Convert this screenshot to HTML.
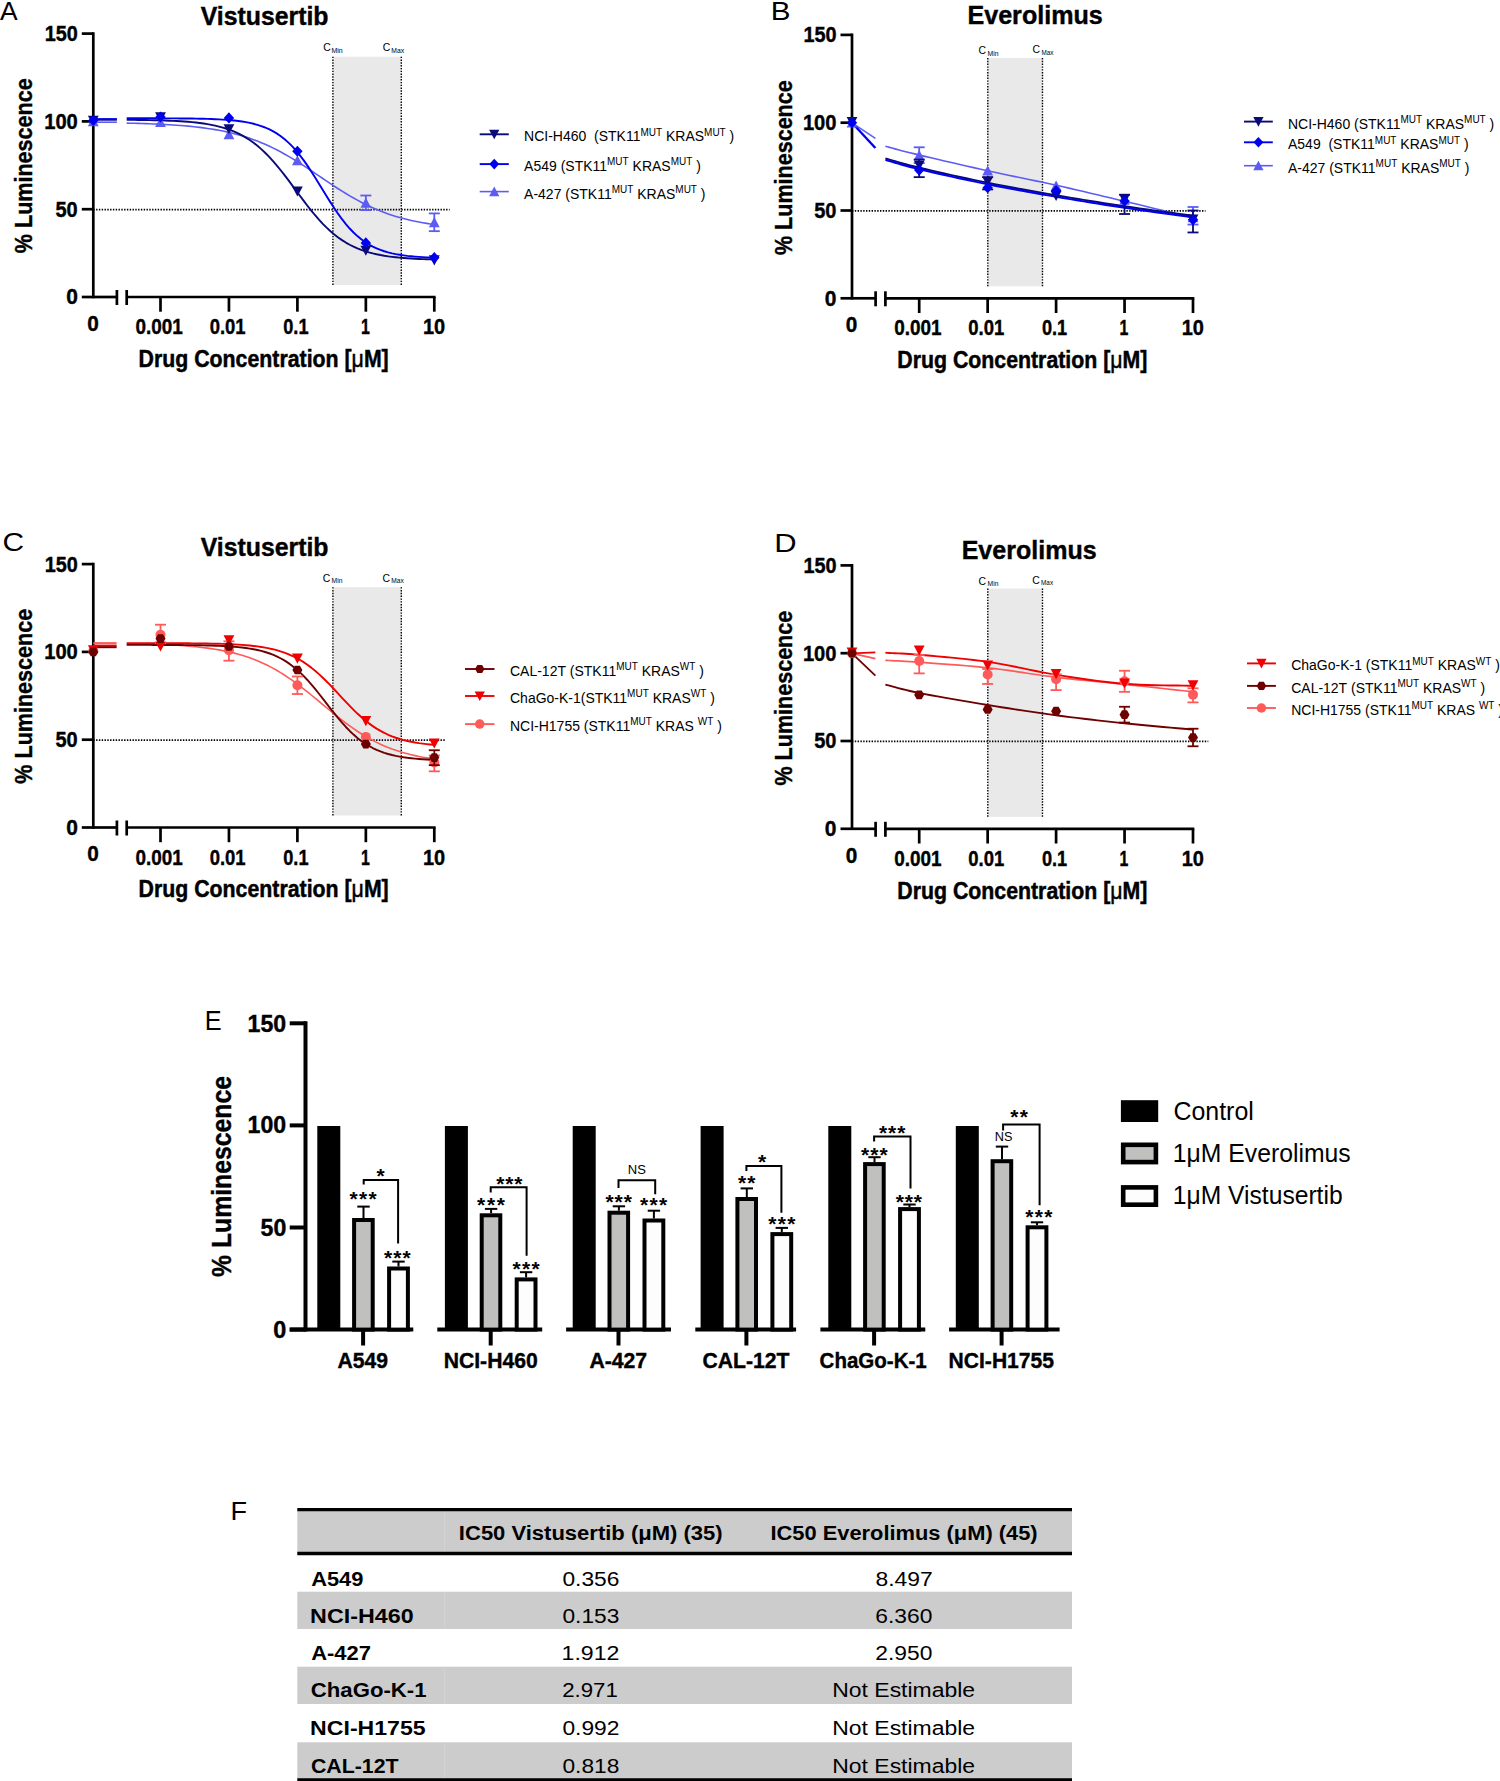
<!DOCTYPE html><html><head><meta charset="utf-8"><style>html,body{margin:0;padding:0;background:#fff;}svg{display:block;}</style></head><body>
<svg width="1500" height="1781" viewBox="0 0 1500 1781" font-family='"Liberation Sans", sans-serif'>
<rect width="1500" height="1781" fill="#fff"/>
<text x="-0.13" y="20.00" font-size="25.5" font-weight="normal" fill="#000" textLength="17.64" lengthAdjust="spacingAndGlyphs" >A</text>
<text x="200.68" y="25.00" font-size="25.5" font-weight="bold" fill="#000" textLength="127.86" lengthAdjust="spacingAndGlyphs"  stroke="#000" stroke-width="0.4">Vistusertib</text>
<rect x="332.9" y="56.7" width="68.4" height="228.3" fill="#e9e9e9"/>
<line x1="332.90" y1="56.70" x2="332.90" y2="285.00" stroke="#000" stroke-width="1.4" stroke-dasharray="1.4,1.4"/>
<line x1="401.30" y1="56.70" x2="401.30" y2="285.00" stroke="#000" stroke-width="1.4" stroke-dasharray="1.4,1.4"/>
<text x="323.20" y="51.00" font-size="10.5" font-weight="normal" fill="#000" textLength="7.55" lengthAdjust="spacingAndGlyphs" >C</text>
<text x="331.50" y="52.90" font-size="7" font-weight="normal" fill="#000" textLength="11.20" lengthAdjust="spacingAndGlyphs" >Min</text>
<text x="382.80" y="51.00" font-size="10.5" font-weight="normal" fill="#000" textLength="7.55" lengthAdjust="spacingAndGlyphs" >C</text>
<text x="391.21" y="52.90" font-size="7" font-weight="normal" fill="#000" textLength="12.88" lengthAdjust="spacingAndGlyphs" >Max</text>
<line x1="93.30" y1="209.60" x2="449.60" y2="209.60" stroke="#000" stroke-width="1.6" stroke-dasharray="1.4,1.4"/>
<line x1="93.30" y1="32.30" x2="93.30" y2="298.30" stroke="#000" stroke-width="2.7" />
<line x1="81.80" y1="33.60" x2="93.30" y2="33.60" stroke="#000" stroke-width="2.7" />
<line x1="81.80" y1="121.40" x2="93.30" y2="121.40" stroke="#000" stroke-width="2.7" />
<line x1="81.80" y1="209.20" x2="93.30" y2="209.20" stroke="#000" stroke-width="2.7" />
<line x1="81.80" y1="297.00" x2="93.30" y2="297.00" stroke="#000" stroke-width="2.7" />
<line x1="93.30" y1="297.00" x2="116.90" y2="297.00" stroke="#000" stroke-width="2.7" />
<line x1="116.90" y1="290.00" x2="116.90" y2="305.00" stroke="#000" stroke-width="2.7" />
<line x1="126.70" y1="290.00" x2="126.70" y2="305.00" stroke="#000" stroke-width="2.7" />
<line x1="126.70" y1="297.00" x2="435.60" y2="297.00" stroke="#000" stroke-width="2.7" />
<line x1="160.50" y1="297.00" x2="160.50" y2="311.70" stroke="#000" stroke-width="2.7" />
<line x1="228.95" y1="297.00" x2="228.95" y2="311.70" stroke="#000" stroke-width="2.7" />
<line x1="297.40" y1="297.00" x2="297.40" y2="311.70" stroke="#000" stroke-width="2.7" />
<line x1="365.85" y1="297.00" x2="365.85" y2="311.70" stroke="#000" stroke-width="2.7" />
<line x1="434.30" y1="297.00" x2="434.30" y2="311.70" stroke="#000" stroke-width="2.7" />
<text x="44.73" y="41.00" font-size="21.5" font-weight="bold" fill="#000" textLength="33.07" lengthAdjust="spacingAndGlyphs"  stroke="#000" stroke-width="0.4">150</text>
<text x="44.21" y="128.80" font-size="21.5" font-weight="bold" fill="#000" textLength="33.60" lengthAdjust="spacingAndGlyphs"  stroke="#000" stroke-width="0.4">100</text>
<text x="55.52" y="216.60" font-size="21.5" font-weight="bold" fill="#000" textLength="22.21" lengthAdjust="spacingAndGlyphs"  stroke="#000" stroke-width="0.4">50</text>
<text x="66.15" y="304.40" font-size="21.5" font-weight="bold" fill="#000" textLength="11.67" lengthAdjust="spacingAndGlyphs"  stroke="#000" stroke-width="0.4">0</text>
<text x="87.15" y="330.70" font-size="21.5" font-weight="bold" fill="#000" textLength="11.55" lengthAdjust="spacingAndGlyphs"  stroke="#000" stroke-width="0.4">0</text>
<text x="135.53" y="334.10" font-size="21.5" font-weight="bold" fill="#000" textLength="47.35" lengthAdjust="spacingAndGlyphs"  stroke="#000" stroke-width="0.4">0.001</text>
<text x="209.65" y="334.10" font-size="21.5" font-weight="bold" fill="#000" textLength="35.96" lengthAdjust="spacingAndGlyphs"  stroke="#000" stroke-width="0.4">0.01</text>
<text x="283.26" y="334.10" font-size="21.5" font-weight="bold" fill="#000" textLength="25.28" lengthAdjust="spacingAndGlyphs"  stroke="#000" stroke-width="0.4">0.1</text>
<text x="360.88" y="334.10" font-size="21.5" font-weight="bold" fill="#000" textLength="8.85" lengthAdjust="spacingAndGlyphs"  stroke="#000" stroke-width="0.4">1</text>
<text x="423.02" y="334.10" font-size="21.5" font-weight="bold" fill="#000" textLength="22.21" lengthAdjust="spacingAndGlyphs"  stroke="#000" stroke-width="0.4">10</text>
<text x="138.59" y="366.80" font-size="24.5" font-weight="bold" fill="#000" textLength="250.14" lengthAdjust="spacingAndGlyphs"  stroke="#000" stroke-width="0.5">Drug Concentration [<tspan font-weight="normal">&#956;</tspan>M]</text>
<text transform="translate(32.40,253.17) rotate(-90)" x="0" y="0" font-size="23.5" font-weight="bold" textLength="174.82" lengthAdjust="spacingAndGlyphs" stroke="#000" stroke-width="0.4">% Luminescence</text>
<polyline points="126.70,123.13 130.55,123.22 134.39,123.31 138.24,123.42 142.08,123.53 145.93,123.66 149.77,123.79 153.62,123.94 157.46,124.11 161.31,124.29 165.15,124.49 169.00,124.71 172.84,124.95 176.69,125.21 180.53,125.50 184.38,125.82 188.22,126.16 192.06,126.54 195.91,126.95 199.75,127.40 203.60,127.89 207.44,128.43 211.29,129.01 215.13,129.65 218.98,130.33 222.83,131.08 226.67,131.89 230.52,132.77 234.36,133.72 238.21,134.75 242.05,135.85 245.90,137.03 249.74,138.31 253.59,139.67 257.43,141.12 261.27,142.66 265.12,144.30 268.97,146.04 272.81,147.88 276.66,149.81 280.50,151.83 284.35,153.94 288.19,156.14 292.04,158.42 295.88,160.77 299.73,163.19 303.57,165.67 307.42,168.19 311.26,170.75 315.11,173.33 318.95,175.93 322.80,178.53 326.64,181.12 330.49,183.69 334.33,186.22 338.18,188.71 342.02,191.15 345.87,193.52 349.71,195.82 353.56,198.04 357.40,200.17 361.25,202.22 365.09,204.17 368.94,206.03 372.78,207.80 376.62,209.46 380.47,211.04 384.31,212.51 388.16,213.90 392.00,215.19 395.85,216.40 399.69,217.52 403.54,218.57 407.39,219.53 411.23,220.43 415.07,221.26 418.92,222.02 422.76,222.73 426.61,223.38 430.45,223.97 434.30,224.52" fill="none" stroke="#5c5cf5" stroke-width="1.6" stroke-linejoin="round" />
<polyline points="126.70,119.85 130.55,119.88 134.39,119.92 138.24,119.96 142.08,120.01 145.93,120.07 149.77,120.14 153.62,120.22 157.46,120.31 161.31,120.42 165.15,120.54 169.00,120.69 172.84,120.85 176.69,121.04 180.53,121.27 184.38,121.52 188.22,121.82 192.06,122.16 195.91,122.56 199.75,123.01 203.60,123.54 207.44,124.14 211.29,124.84 215.13,125.63 218.98,126.55 222.83,127.59 226.67,128.78 230.52,130.14 234.36,131.68 238.21,133.42 242.05,135.38 245.90,137.59 249.74,140.05 253.59,142.78 257.43,145.80 261.27,149.11 265.12,152.73 268.97,156.63 272.81,160.83 276.66,165.29 280.50,169.98 284.35,174.88 288.19,179.94 292.04,185.10 295.88,190.32 299.73,195.53 303.57,200.68 307.42,205.71 311.26,210.58 315.11,215.24 318.95,219.66 322.80,223.80 326.64,227.66 330.49,231.23 334.33,234.49 338.18,237.46 342.02,240.15 345.87,242.57 349.71,244.73 353.56,246.65 357.40,248.36 361.25,249.86 365.09,251.19 368.94,252.36 372.78,253.38 376.62,254.27 380.47,255.05 384.31,255.73 388.16,256.32 392.00,256.84 395.85,257.28 399.69,257.67 403.54,258.00 407.39,258.29 411.23,258.54 415.07,258.76 418.92,258.95 422.76,259.11 426.61,259.25 430.45,259.37 434.30,259.47" fill="none" stroke="#0a0a78" stroke-width="1.9" stroke-linejoin="round" />
<polyline points="126.70,118.25 130.55,118.26 134.39,118.26 138.24,118.27 142.08,118.27 145.93,118.28 149.77,118.28 153.62,118.29 157.46,118.30 161.31,118.32 165.15,118.33 169.00,118.35 172.84,118.37 176.69,118.40 180.53,118.43 184.38,118.47 188.22,118.51 192.06,118.56 195.91,118.63 199.75,118.70 203.60,118.80 207.44,118.90 211.29,119.03 215.13,119.19 218.98,119.38 222.83,119.60 226.67,119.86 230.52,120.18 234.36,120.55 238.21,121.00 242.05,121.53 245.90,122.16 249.74,122.91 253.59,123.79 257.43,124.83 261.27,126.06 265.12,127.50 268.97,129.18 272.81,131.13 276.66,133.40 280.50,136.01 284.35,138.99 288.19,142.37 292.04,146.17 295.88,150.41 299.73,155.08 303.57,160.17 307.42,165.63 311.26,171.43 315.11,177.47 318.95,183.69 322.80,189.98 326.64,196.25 330.49,202.38 334.33,208.31 338.18,213.93 342.02,219.20 345.87,224.07 349.71,228.51 353.56,232.52 357.40,236.09 361.25,239.26 365.09,242.04 368.94,244.46 372.78,246.55 376.62,248.36 380.47,249.91 384.31,251.23 388.16,252.35 392.00,253.31 395.85,254.11 399.69,254.80 403.54,255.37 407.39,255.86 411.23,256.26 415.07,256.60 418.92,256.89 422.76,257.13 426.61,257.33 430.45,257.50 434.30,257.64" fill="none" stroke="#0000f0" stroke-width="1.9" stroke-linejoin="round" />
<line x1="93.30" y1="122.20" x2="116.90" y2="122.20" stroke="#5c5cf5" stroke-width="1.6" />
<line x1="93.30" y1="119.80" x2="116.90" y2="119.80" stroke="#0a0a78" stroke-width="1.8" />
<line x1="93.30" y1="119.00" x2="116.90" y2="119.00" stroke="#0000f0" stroke-width="1.8" />
<polygon points="87.90,126.20 98.70,126.20 93.30,116.10" fill="#5c5cf5"/>
<polygon points="155.10,127.08 165.90,127.08 160.50,116.98" fill="#5c5cf5"/>
<polygon points="223.55,139.19 234.35,139.19 228.95,129.09" fill="#5c5cf5"/>
<polygon points="292.00,165.36 302.80,165.36 297.40,155.26" fill="#5c5cf5"/>
<line x1="365.85" y1="195.50" x2="365.85" y2="210.08" stroke="#5c5cf5" stroke-width="1.8" />
<line x1="360.35" y1="195.50" x2="371.35" y2="195.50" stroke="#5c5cf5" stroke-width="1.8" />
<line x1="360.35" y1="210.08" x2="371.35" y2="210.08" stroke="#5c5cf5" stroke-width="1.8" />
<polygon points="360.45,207.85 371.25,207.85 365.85,197.75" fill="#5c5cf5"/>
<line x1="434.30" y1="213.41" x2="434.30" y2="231.15" stroke="#5c5cf5" stroke-width="1.8" />
<line x1="428.80" y1="213.41" x2="439.80" y2="213.41" stroke="#5c5cf5" stroke-width="1.8" />
<line x1="428.80" y1="231.15" x2="439.80" y2="231.15" stroke="#5c5cf5" stroke-width="1.8" />
<polygon points="428.90,227.17 439.70,227.17 434.30,217.07" fill="#5c5cf5"/>
<polygon points="87.90,115.72 98.70,115.72 93.30,125.82" fill="#0a0a78"/>
<polygon points="155.10,112.21 165.90,112.21 160.50,122.31" fill="#0a0a78"/>
<polygon points="223.55,124.15 234.35,124.15 228.95,134.25" fill="#0a0a78"/>
<polygon points="292.00,186.49 302.80,186.49 297.40,196.59" fill="#0a0a78"/>
<polygon points="360.45,245.67 371.25,245.67 365.85,255.77" fill="#0a0a78"/>
<polygon points="428.90,255.32 439.70,255.32 434.30,265.42" fill="#0a0a78"/>
<polygon points="93.30,114.92 98.50,120.52 93.30,126.12 88.10,120.52" fill="#0000f0"/>
<polygon points="160.50,111.41 165.70,117.01 160.50,122.61 155.30,117.01" fill="#0000f0"/>
<polygon points="228.95,112.29 234.15,117.89 228.95,123.49 223.75,117.89" fill="#0000f0"/>
<polygon points="297.40,145.65 302.60,151.25 297.40,156.85 292.20,151.25" fill="#0000f0"/>
<polygon points="365.85,237.32 371.05,242.92 365.85,248.52 360.65,242.92" fill="#0000f0"/>
<polygon points="434.30,252.07 439.50,257.67 434.30,263.27 429.10,257.67" fill="#0000f0"/>
<text x="770.83" y="20.00" font-size="25.5" font-weight="normal" fill="#000" textLength="19.78" lengthAdjust="spacingAndGlyphs" >B</text>
<text x="967.48" y="24.20" font-size="25.5" font-weight="bold" fill="#000" textLength="135.30" lengthAdjust="spacingAndGlyphs"  stroke="#000" stroke-width="0.4">Everolimus</text>
<rect x="987.8" y="58.0" width="54.7" height="228.3" fill="#e9e9e9"/>
<line x1="987.80" y1="58.00" x2="987.80" y2="286.30" stroke="#000" stroke-width="1.4" stroke-dasharray="1.4,1.4"/>
<line x1="1042.50" y1="58.00" x2="1042.50" y2="286.30" stroke="#000" stroke-width="1.4" stroke-dasharray="1.4,1.4"/>
<text x="978.50" y="53.90" font-size="10.5" font-weight="normal" fill="#000" textLength="7.55" lengthAdjust="spacingAndGlyphs" >C</text>
<text x="987.51" y="55.70" font-size="7" font-weight="normal" fill="#000" textLength="10.98" lengthAdjust="spacingAndGlyphs" >Min</text>
<text x="1032.50" y="53.00" font-size="10.5" font-weight="normal" fill="#000" textLength="7.55" lengthAdjust="spacingAndGlyphs" >C</text>
<text x="1041.55" y="55.10" font-size="7" font-weight="normal" fill="#000" textLength="11.94" lengthAdjust="spacingAndGlyphs" >Max</text>
<line x1="852.00" y1="210.90" x2="1205.50" y2="210.90" stroke="#000" stroke-width="1.6" stroke-dasharray="1.4,1.4"/>
<line x1="852.00" y1="33.60" x2="852.00" y2="299.60" stroke="#000" stroke-width="2.7" />
<line x1="840.50" y1="34.90" x2="852.00" y2="34.90" stroke="#000" stroke-width="2.7" />
<line x1="840.50" y1="122.70" x2="852.00" y2="122.70" stroke="#000" stroke-width="2.7" />
<line x1="840.50" y1="210.50" x2="852.00" y2="210.50" stroke="#000" stroke-width="2.7" />
<line x1="840.50" y1="298.30" x2="852.00" y2="298.30" stroke="#000" stroke-width="2.7" />
<line x1="852.00" y1="298.30" x2="875.60" y2="298.30" stroke="#000" stroke-width="2.7" />
<line x1="875.60" y1="291.30" x2="875.60" y2="306.30" stroke="#000" stroke-width="2.7" />
<line x1="885.40" y1="291.30" x2="885.40" y2="306.30" stroke="#000" stroke-width="2.7" />
<line x1="885.40" y1="298.30" x2="1194.30" y2="298.30" stroke="#000" stroke-width="2.7" />
<line x1="919.20" y1="298.30" x2="919.20" y2="313.00" stroke="#000" stroke-width="2.7" />
<line x1="987.65" y1="298.30" x2="987.65" y2="313.00" stroke="#000" stroke-width="2.7" />
<line x1="1056.10" y1="298.30" x2="1056.10" y2="313.00" stroke="#000" stroke-width="2.7" />
<line x1="1124.55" y1="298.30" x2="1124.55" y2="313.00" stroke="#000" stroke-width="2.7" />
<line x1="1193.00" y1="298.30" x2="1193.00" y2="313.00" stroke="#000" stroke-width="2.7" />
<text x="803.43" y="42.30" font-size="21.5" font-weight="bold" fill="#000" textLength="33.07" lengthAdjust="spacingAndGlyphs"  stroke="#000" stroke-width="0.4">150</text>
<text x="802.91" y="130.10" font-size="21.5" font-weight="bold" fill="#000" textLength="33.60" lengthAdjust="spacingAndGlyphs"  stroke="#000" stroke-width="0.4">100</text>
<text x="814.22" y="217.90" font-size="21.5" font-weight="bold" fill="#000" textLength="22.21" lengthAdjust="spacingAndGlyphs"  stroke="#000" stroke-width="0.4">50</text>
<text x="824.85" y="305.70" font-size="21.5" font-weight="bold" fill="#000" textLength="11.67" lengthAdjust="spacingAndGlyphs"  stroke="#000" stroke-width="0.4">0</text>
<text x="845.85" y="332.00" font-size="21.5" font-weight="bold" fill="#000" textLength="11.55" lengthAdjust="spacingAndGlyphs"  stroke="#000" stroke-width="0.4">0</text>
<text x="894.23" y="335.40" font-size="21.5" font-weight="bold" fill="#000" textLength="47.35" lengthAdjust="spacingAndGlyphs"  stroke="#000" stroke-width="0.4">0.001</text>
<text x="968.35" y="335.40" font-size="21.5" font-weight="bold" fill="#000" textLength="35.96" lengthAdjust="spacingAndGlyphs"  stroke="#000" stroke-width="0.4">0.01</text>
<text x="1041.96" y="335.40" font-size="21.5" font-weight="bold" fill="#000" textLength="25.28" lengthAdjust="spacingAndGlyphs"  stroke="#000" stroke-width="0.4">0.1</text>
<text x="1119.58" y="335.40" font-size="21.5" font-weight="bold" fill="#000" textLength="8.85" lengthAdjust="spacingAndGlyphs"  stroke="#000" stroke-width="0.4">1</text>
<text x="1181.72" y="335.40" font-size="21.5" font-weight="bold" fill="#000" textLength="22.21" lengthAdjust="spacingAndGlyphs"  stroke="#000" stroke-width="0.4">10</text>
<text x="897.29" y="368.10" font-size="24.5" font-weight="bold" fill="#000" textLength="250.14" lengthAdjust="spacingAndGlyphs"  stroke="#000" stroke-width="0.5">Drug Concentration [<tspan font-weight="normal">&#956;</tspan>M]</text>
<text transform="translate(791.90,255.07) rotate(-90)" x="0" y="0" font-size="23.5" font-weight="bold" textLength="174.82" lengthAdjust="spacingAndGlyphs" stroke="#000" stroke-width="0.4">% Luminescence</text>
<polyline points="885.40,146.30 887.28,146.79 889.49,147.39 892.05,148.08 894.94,148.86 898.18,149.72 901.76,150.66 905.68,151.68 909.95,152.76 914.55,153.90 919.50,155.10 924.94,156.40 930.97,157.82 937.47,159.34 944.35,160.94 951.50,162.59 958.82,164.28 966.22,165.96 973.58,167.63 980.81,169.25 987.80,170.80 994.64,172.29 1001.49,173.75 1008.34,175.19 1015.19,176.61 1022.04,178.03 1028.90,179.45 1035.75,180.88 1042.60,182.32 1049.45,183.79 1056.30,185.30 1063.14,186.84 1069.99,188.40 1076.83,189.97 1083.67,191.57 1090.51,193.18 1097.35,194.79 1104.19,196.42 1111.03,198.04 1117.86,199.67 1124.70,201.30 1131.84,203.00 1139.46,204.83 1147.35,206.73 1155.31,208.66 1163.12,210.55 1170.60,212.36 1177.53,214.05 1183.71,215.55 1188.94,216.82 1193.00,217.80" fill="none" stroke="#5c5cf5" stroke-width="1.6" stroke-linejoin="round" />
<polyline points="885.40,158.40 887.28,158.93 889.49,159.59 892.05,160.35 894.94,161.21 898.18,162.16 901.76,163.19 905.68,164.27 909.95,165.41 914.55,166.59 919.50,167.80 924.94,169.08 930.97,170.48 937.47,171.97 944.35,173.52 951.50,175.11 958.82,176.71 966.22,178.31 973.58,179.87 980.81,181.38 987.80,182.80 994.64,184.16 1001.49,185.48 1008.34,186.78 1015.19,188.05 1022.04,189.30 1028.90,190.53 1035.75,191.74 1042.60,192.94 1049.45,194.12 1056.30,195.30 1063.14,196.47 1069.99,197.62 1076.83,198.76 1083.67,199.88 1090.51,200.99 1097.35,202.08 1104.19,203.16 1111.03,204.22 1117.86,205.27 1124.70,206.30 1131.84,207.35 1139.46,208.45 1147.35,209.56 1155.31,210.66 1163.12,211.74 1170.60,212.76 1177.53,213.70 1183.71,214.53 1188.94,215.24 1193.00,215.80" fill="none" stroke="#0a0a78" stroke-width="2.0" stroke-linejoin="round" />
<polyline points="885.40,159.90 887.28,160.43 889.49,161.09 892.05,161.85 894.94,162.71 898.18,163.66 901.76,164.69 905.68,165.77 909.95,166.91 914.55,168.09 919.50,169.30 924.94,170.58 930.97,171.98 937.47,173.47 944.35,175.02 951.50,176.61 958.82,178.21 966.22,179.81 973.58,181.37 980.81,182.88 987.80,184.30 994.64,185.66 1001.49,186.98 1008.34,188.28 1015.19,189.55 1022.04,190.80 1028.90,192.03 1035.75,193.24 1042.60,194.44 1049.45,195.62 1056.30,196.80 1063.14,197.97 1069.99,199.12 1076.83,200.26 1083.67,201.38 1090.51,202.49 1097.35,203.58 1104.19,204.66 1111.03,205.72 1117.86,206.77 1124.70,207.80 1131.84,208.85 1139.46,209.95 1147.35,211.06 1155.31,212.16 1163.12,213.24 1170.60,214.26 1177.53,215.20 1183.71,216.03 1188.94,216.74 1193.00,217.30" fill="none" stroke="#0000f0" stroke-width="2.0" stroke-linejoin="round" />
<line x1="852.00" y1="122.80" x2="875.40" y2="138.30" stroke="#5c5cf5" stroke-width="1.6" />
<line x1="852.00" y1="122.80" x2="875.40" y2="148.00" stroke="#0000f0" stroke-width="2.4" />
<polygon points="846.60,127.50 857.40,127.50 852.00,117.40" fill="#5c5cf5"/>
<line x1="919.20" y1="147.28" x2="919.20" y2="163.09" stroke="#5c5cf5" stroke-width="1.8" />
<line x1="913.70" y1="147.28" x2="924.70" y2="147.28" stroke="#5c5cf5" stroke-width="1.8" />
<line x1="913.70" y1="163.09" x2="924.70" y2="163.09" stroke="#5c5cf5" stroke-width="1.8" />
<polygon points="913.80,159.99 924.60,159.99 919.20,149.89" fill="#5c5cf5"/>
<polygon points="982.25,175.61 993.05,175.61 987.65,165.51" fill="#5c5cf5"/>
<polygon points="1050.70,190.72 1061.50,190.72 1056.10,180.62" fill="#5c5cf5"/>
<polygon points="1119.15,204.76 1129.95,204.76 1124.55,194.66" fill="#5c5cf5"/>
<line x1="1193.00" y1="206.99" x2="1193.00" y2="224.55" stroke="#5c5cf5" stroke-width="1.8" />
<line x1="1187.50" y1="206.99" x2="1198.50" y2="206.99" stroke="#5c5cf5" stroke-width="1.8" />
<line x1="1187.50" y1="224.55" x2="1198.50" y2="224.55" stroke="#5c5cf5" stroke-width="1.8" />
<polygon points="1187.60,222.32 1198.40,222.32 1193.00,212.22" fill="#5c5cf5"/>
<polygon points="846.60,117.02 857.40,117.02 852.00,127.12" fill="#0a0a78"/>
<line x1="919.20" y1="159.58" x2="919.20" y2="177.14" stroke="#0a0a78" stroke-width="1.8" />
<line x1="913.70" y1="159.58" x2="924.70" y2="159.58" stroke="#0a0a78" stroke-width="1.8" />
<line x1="913.70" y1="177.14" x2="924.70" y2="177.14" stroke="#0a0a78" stroke-width="1.8" />
<polygon points="913.80,160.40 924.60,160.40 919.20,170.50" fill="#0a0a78"/>
<line x1="987.65" y1="177.14" x2="987.65" y2="189.43" stroke="#0a0a78" stroke-width="1.8" />
<line x1="982.15" y1="177.14" x2="993.15" y2="177.14" stroke="#0a0a78" stroke-width="1.8" />
<line x1="982.15" y1="189.43" x2="993.15" y2="189.43" stroke="#0a0a78" stroke-width="1.8" />
<polygon points="982.25,176.73 993.05,176.73 987.65,186.83" fill="#0a0a78"/>
<polygon points="1050.70,190.95 1061.50,190.95 1056.10,201.05" fill="#0a0a78"/>
<line x1="1124.55" y1="194.70" x2="1124.55" y2="214.01" stroke="#0a0a78" stroke-width="1.8" />
<line x1="1119.05" y1="194.70" x2="1130.05" y2="194.70" stroke="#0a0a78" stroke-width="1.8" />
<line x1="1119.05" y1="214.01" x2="1130.05" y2="214.01" stroke="#0a0a78" stroke-width="1.8" />
<polygon points="1119.15,194.29 1129.95,194.29 1124.55,204.39" fill="#0a0a78"/>
<line x1="1193.00" y1="210.50" x2="1193.00" y2="232.45" stroke="#0a0a78" stroke-width="1.8" />
<line x1="1187.50" y1="210.50" x2="1198.50" y2="210.50" stroke="#0a0a78" stroke-width="1.8" />
<line x1="1187.50" y1="232.45" x2="1198.50" y2="232.45" stroke="#0a0a78" stroke-width="1.8" />
<polygon points="1187.60,214.48 1198.40,214.48 1193.00,224.58" fill="#0a0a78"/>
<polygon points="852.00,117.10 857.20,122.70 852.00,128.30 846.80,122.70" fill="#0000f0"/>
<polygon points="919.20,164.51 924.40,170.11 919.20,175.71 914.00,170.11" fill="#0000f0"/>
<polygon points="987.65,182.07 992.85,187.67 987.65,193.27 982.45,187.67" fill="#0000f0"/>
<polygon points="1056.10,185.06 1061.30,190.66 1056.10,196.26 1050.90,190.66" fill="#0000f0"/>
<polygon points="1124.55,195.42 1129.75,201.02 1124.55,206.62 1119.35,201.02" fill="#0000f0"/>
<polygon points="1193.00,214.21 1198.20,219.81 1193.00,225.41 1187.80,219.81" fill="#0000f0"/>
<text x="2.56" y="551.40" font-size="26" font-weight="normal" fill="#000" textLength="21.62" lengthAdjust="spacingAndGlyphs" >C</text>
<text x="200.68" y="555.80" font-size="25.5" font-weight="bold" fill="#000" textLength="127.86" lengthAdjust="spacingAndGlyphs"  stroke="#000" stroke-width="0.4">Vistusertib</text>
<rect x="332.9" y="587.2" width="68.4" height="228.3" fill="#e9e9e9"/>
<line x1="332.90" y1="587.20" x2="332.90" y2="815.50" stroke="#000" stroke-width="1.4" stroke-dasharray="1.4,1.4"/>
<line x1="401.30" y1="587.20" x2="401.30" y2="815.50" stroke="#000" stroke-width="1.4" stroke-dasharray="1.4,1.4"/>
<text x="322.80" y="582.30" font-size="10.5" font-weight="normal" fill="#000" textLength="7.55" lengthAdjust="spacingAndGlyphs" >C</text>
<text x="331.52" y="583.30" font-size="7" font-weight="normal" fill="#000" textLength="10.87" lengthAdjust="spacingAndGlyphs" >Min</text>
<text x="382.50" y="582.30" font-size="10.5" font-weight="normal" fill="#000" textLength="7.55" lengthAdjust="spacingAndGlyphs" >C</text>
<text x="391.22" y="583.30" font-size="7" font-weight="normal" fill="#000" textLength="12.57" lengthAdjust="spacingAndGlyphs" >Max</text>
<line x1="93.30" y1="740.10" x2="444.80" y2="740.10" stroke="#000" stroke-width="1.6" stroke-dasharray="1.4,1.4"/>
<line x1="93.30" y1="562.80" x2="93.30" y2="828.80" stroke="#000" stroke-width="2.7" />
<line x1="81.80" y1="564.10" x2="93.30" y2="564.10" stroke="#000" stroke-width="2.7" />
<line x1="81.80" y1="651.90" x2="93.30" y2="651.90" stroke="#000" stroke-width="2.7" />
<line x1="81.80" y1="739.70" x2="93.30" y2="739.70" stroke="#000" stroke-width="2.7" />
<line x1="81.80" y1="827.50" x2="93.30" y2="827.50" stroke="#000" stroke-width="2.7" />
<line x1="93.30" y1="827.50" x2="116.90" y2="827.50" stroke="#000" stroke-width="2.7" />
<line x1="116.90" y1="820.50" x2="116.90" y2="835.50" stroke="#000" stroke-width="2.7" />
<line x1="126.70" y1="820.50" x2="126.70" y2="835.50" stroke="#000" stroke-width="2.7" />
<line x1="126.70" y1="827.50" x2="435.60" y2="827.50" stroke="#000" stroke-width="2.7" />
<line x1="160.50" y1="827.50" x2="160.50" y2="842.20" stroke="#000" stroke-width="2.7" />
<line x1="228.95" y1="827.50" x2="228.95" y2="842.20" stroke="#000" stroke-width="2.7" />
<line x1="297.40" y1="827.50" x2="297.40" y2="842.20" stroke="#000" stroke-width="2.7" />
<line x1="365.85" y1="827.50" x2="365.85" y2="842.20" stroke="#000" stroke-width="2.7" />
<line x1="434.30" y1="827.50" x2="434.30" y2="842.20" stroke="#000" stroke-width="2.7" />
<text x="44.73" y="571.50" font-size="21.5" font-weight="bold" fill="#000" textLength="33.07" lengthAdjust="spacingAndGlyphs"  stroke="#000" stroke-width="0.4">150</text>
<text x="44.21" y="659.30" font-size="21.5" font-weight="bold" fill="#000" textLength="33.60" lengthAdjust="spacingAndGlyphs"  stroke="#000" stroke-width="0.4">100</text>
<text x="55.52" y="747.10" font-size="21.5" font-weight="bold" fill="#000" textLength="22.21" lengthAdjust="spacingAndGlyphs"  stroke="#000" stroke-width="0.4">50</text>
<text x="66.15" y="834.90" font-size="21.5" font-weight="bold" fill="#000" textLength="11.67" lengthAdjust="spacingAndGlyphs"  stroke="#000" stroke-width="0.4">0</text>
<text x="87.15" y="861.20" font-size="21.5" font-weight="bold" fill="#000" textLength="11.55" lengthAdjust="spacingAndGlyphs"  stroke="#000" stroke-width="0.4">0</text>
<text x="135.53" y="864.60" font-size="21.5" font-weight="bold" fill="#000" textLength="47.35" lengthAdjust="spacingAndGlyphs"  stroke="#000" stroke-width="0.4">0.001</text>
<text x="209.65" y="864.60" font-size="21.5" font-weight="bold" fill="#000" textLength="35.96" lengthAdjust="spacingAndGlyphs"  stroke="#000" stroke-width="0.4">0.01</text>
<text x="283.26" y="864.60" font-size="21.5" font-weight="bold" fill="#000" textLength="25.28" lengthAdjust="spacingAndGlyphs"  stroke="#000" stroke-width="0.4">0.1</text>
<text x="360.88" y="864.60" font-size="21.5" font-weight="bold" fill="#000" textLength="8.85" lengthAdjust="spacingAndGlyphs"  stroke="#000" stroke-width="0.4">1</text>
<text x="423.02" y="864.60" font-size="21.5" font-weight="bold" fill="#000" textLength="22.21" lengthAdjust="spacingAndGlyphs"  stroke="#000" stroke-width="0.4">10</text>
<text x="138.59" y="897.30" font-size="24.5" font-weight="bold" fill="#000" textLength="250.14" lengthAdjust="spacingAndGlyphs"  stroke="#000" stroke-width="0.5">Drug Concentration [<tspan font-weight="normal">&#956;</tspan>M]</text>
<text transform="translate(32.40,783.67) rotate(-90)" x="0" y="0" font-size="23.5" font-weight="bold" textLength="174.82" lengthAdjust="spacingAndGlyphs" stroke="#000" stroke-width="0.4">% Luminescence</text>
<polyline points="126.70,643.68 130.55,643.75 134.39,643.81 138.24,643.89 142.08,643.98 145.93,644.07 149.77,644.18 153.62,644.29 157.46,644.42 161.31,644.57 165.15,644.73 169.00,644.90 172.84,645.10 176.69,645.32 180.53,645.56 184.38,645.82 188.22,646.12 192.06,646.44 195.91,646.80 199.75,647.20 203.60,647.64 207.44,648.12 211.29,648.65 215.13,649.24 218.98,649.88 222.83,650.59 226.67,651.37 230.52,652.22 234.36,653.15 238.21,654.17 242.05,655.28 245.90,656.48 249.74,657.79 253.59,659.21 257.43,660.75 261.27,662.40 265.12,664.18 268.97,666.09 272.81,668.12 276.66,670.28 280.50,672.58 284.35,675.00 288.19,677.55 292.04,680.21 295.88,682.99 299.73,685.87 303.57,688.84 307.42,691.89 311.26,695.00 315.11,698.16 318.95,701.35 322.80,704.56 326.64,707.76 330.49,710.93 334.33,714.07 338.18,717.15 342.02,720.16 345.87,723.08 349.71,725.91 353.56,728.63 357.40,731.23 361.25,733.71 365.09,736.07 368.94,738.29 372.78,740.39 376.62,742.35 380.47,744.19 384.31,745.90 388.16,747.49 392.00,748.96 395.85,750.32 399.69,751.58 403.54,752.73 407.39,753.79 411.23,754.76 415.07,755.65 418.92,756.46 422.76,757.20 426.61,757.87 430.45,758.49 434.30,759.04" fill="none" stroke="#ff5a5a" stroke-width="1.6" stroke-linejoin="round" />
<polyline points="126.70,643.13 130.55,643.14 134.39,643.14 138.24,643.14 142.08,643.15 145.93,643.15 149.77,643.16 153.62,643.16 157.46,643.17 161.31,643.18 165.15,643.19 169.00,643.20 172.84,643.22 176.69,643.24 180.53,643.26 184.38,643.28 188.22,643.31 192.06,643.34 195.91,643.38 199.75,643.43 203.60,643.48 207.44,643.54 211.29,643.61 215.13,643.70 218.98,643.80 222.83,643.92 226.67,644.05 230.52,644.21 234.36,644.40 238.21,644.62 242.05,644.88 245.90,645.18 249.74,645.53 253.59,645.94 257.43,646.41 261.27,646.96 265.12,647.60 268.97,648.34 272.81,649.20 276.66,650.18 280.50,651.32 284.35,652.61 288.19,654.09 292.04,655.76 295.88,657.65 299.73,659.77 303.57,662.14 307.42,664.76 311.26,667.63 315.11,670.76 318.95,674.13 322.80,677.72 326.64,681.51 330.49,685.46 334.33,689.52 338.18,693.66 342.02,697.81 345.87,701.92 349.71,705.95 353.56,709.84 357.40,713.56 361.25,717.06 365.09,720.34 368.94,723.37 372.78,726.14 376.62,728.66 380.47,730.93 384.31,732.96 388.16,734.76 392.00,736.36 395.85,737.76 399.69,738.99 403.54,740.06 407.39,740.99 411.23,741.80 415.07,742.50 418.92,743.11 422.76,743.63 426.61,744.07 430.45,744.46 434.30,744.79" fill="none" stroke="#f00000" stroke-width="1.9" stroke-linejoin="round" />
<polyline points="126.70,644.89 130.55,644.89 134.39,644.90 138.24,644.90 142.08,644.91 145.93,644.91 149.77,644.92 153.62,644.93 157.46,644.94 161.31,644.95 165.15,644.96 169.00,644.98 172.84,645.00 176.69,645.02 180.53,645.05 184.38,645.08 188.22,645.12 192.06,645.16 195.91,645.22 199.75,645.28 203.60,645.36 207.44,645.45 211.29,645.56 215.13,645.68 218.98,645.83 222.83,646.01 226.67,646.22 230.52,646.47 234.36,646.76 238.21,647.11 242.05,647.52 245.90,648.00 249.74,648.57 253.59,649.24 257.43,650.02 261.27,650.94 265.12,652.00 268.97,653.25 272.81,654.68 276.66,656.34 280.50,658.25 284.35,660.42 288.19,662.88 292.04,665.66 295.88,668.75 299.73,672.18 303.57,675.93 307.42,679.99 311.26,684.34 315.11,688.93 318.95,693.72 322.80,698.63 326.64,703.61 330.49,708.58 334.33,713.46 338.18,718.19 342.02,722.71 345.87,726.97 349.71,730.94 353.56,734.59 357.40,737.91 361.25,740.90 365.09,743.58 368.94,745.95 372.78,748.03 376.62,749.86 380.47,751.44 384.31,752.82 388.16,754.00 392.00,755.02 395.85,755.89 399.69,756.63 403.54,757.27 407.39,757.81 411.23,758.26 415.07,758.65 418.92,758.98 422.76,759.26 426.61,759.50 430.45,759.70 434.30,759.87" fill="none" stroke="#6e0000" stroke-width="1.9" stroke-linejoin="round" />
<line x1="93.30" y1="643.20" x2="116.60" y2="643.20" stroke="#ff5a5a" stroke-width="2.2" />
<line x1="93.30" y1="645.80" x2="116.60" y2="645.80" stroke="#f00000" stroke-width="2.2" />
<line x1="93.30" y1="647.30" x2="116.60" y2="647.30" stroke="#6e0000" stroke-width="1.8" />
<circle cx="93.30" cy="651.02" r="5.00" fill="#ff5a5a"/>
<line x1="160.50" y1="624.68" x2="160.50" y2="643.12" stroke="#ff5a5a" stroke-width="1.8" />
<line x1="155.00" y1="624.68" x2="166.00" y2="624.68" stroke="#ff5a5a" stroke-width="1.8" />
<line x1="155.00" y1="643.12" x2="166.00" y2="643.12" stroke="#ff5a5a" stroke-width="1.8" />
<circle cx="160.50" cy="634.87" r="5.00" fill="#ff5a5a"/>
<line x1="228.95" y1="641.36" x2="228.95" y2="660.68" stroke="#ff5a5a" stroke-width="1.8" />
<line x1="223.45" y1="641.36" x2="234.45" y2="641.36" stroke="#ff5a5a" stroke-width="1.8" />
<line x1="223.45" y1="660.68" x2="234.45" y2="660.68" stroke="#ff5a5a" stroke-width="1.8" />
<circle cx="228.95" cy="650.14" r="5.00" fill="#ff5a5a"/>
<line x1="297.40" y1="676.48" x2="297.40" y2="694.04" stroke="#ff5a5a" stroke-width="1.8" />
<line x1="291.90" y1="676.48" x2="302.90" y2="676.48" stroke="#ff5a5a" stroke-width="1.8" />
<line x1="291.90" y1="694.04" x2="302.90" y2="694.04" stroke="#ff5a5a" stroke-width="1.8" />
<circle cx="297.40" cy="685.26" r="5.00" fill="#ff5a5a"/>
<circle cx="365.85" cy="736.89" r="5.00" fill="#ff5a5a"/>
<line x1="434.30" y1="755.50" x2="434.30" y2="771.31" stroke="#ff5a5a" stroke-width="1.8" />
<line x1="428.80" y1="755.50" x2="439.80" y2="755.50" stroke="#ff5a5a" stroke-width="1.8" />
<line x1="428.80" y1="771.31" x2="439.80" y2="771.31" stroke="#ff5a5a" stroke-width="1.8" />
<circle cx="434.30" cy="762.53" r="5.00" fill="#ff5a5a"/>
<polygon points="87.90,645.34 98.70,645.34 93.30,655.44" fill="#f00000"/>
<polygon points="155.10,641.48 165.90,641.48 160.50,651.58" fill="#f00000"/>
<polygon points="223.55,635.33 234.35,635.33 228.95,645.43" fill="#f00000"/>
<polygon points="292.00,653.60 302.80,653.60 297.40,663.70" fill="#f00000"/>
<polygon points="360.45,716.11 371.25,716.11 365.85,726.21" fill="#f00000"/>
<polygon points="428.90,738.41 439.70,738.41 434.30,748.51" fill="#f00000"/>
<polygon points="98.30,651.90 95.80,656.23 90.80,656.23 88.30,651.90 90.80,647.57 95.80,647.57" fill="#6e0000"/>
<polygon points="165.50,638.55 163.00,642.88 158.00,642.88 155.50,638.55 158.00,634.22 163.00,634.22" fill="#6e0000"/>
<polygon points="233.95,646.46 231.45,650.79 226.45,650.79 223.95,646.46 226.45,642.13 231.45,642.13" fill="#6e0000"/>
<polygon points="302.40,669.99 299.90,674.32 294.90,674.32 292.40,669.99 294.90,665.66 299.90,665.66" fill="#6e0000"/>
<polygon points="370.85,744.09 368.35,748.42 363.35,748.42 360.85,744.09 363.35,739.76 368.35,739.76" fill="#6e0000"/>
<line x1="434.30" y1="750.24" x2="434.30" y2="765.16" stroke="#6e0000" stroke-width="1.8" />
<line x1="428.80" y1="750.24" x2="439.80" y2="750.24" stroke="#6e0000" stroke-width="1.8" />
<line x1="428.80" y1="765.16" x2="439.80" y2="765.16" stroke="#6e0000" stroke-width="1.8" />
<polygon points="439.30,757.61 436.80,761.94 431.80,761.94 429.30,757.61 431.80,753.28 436.80,753.28" fill="#6e0000"/>
<text x="774.17" y="551.70" font-size="26" font-weight="normal" fill="#000" textLength="22.35" lengthAdjust="spacingAndGlyphs" >D</text>
<text x="961.68" y="558.60" font-size="25.5" font-weight="bold" fill="#000" textLength="134.99" lengthAdjust="spacingAndGlyphs"  stroke="#000" stroke-width="0.4">Everolimus</text>
<rect x="987.8" y="588.5" width="54.7" height="228.3" fill="#e9e9e9"/>
<line x1="987.80" y1="588.50" x2="987.80" y2="816.80" stroke="#000" stroke-width="1.4" stroke-dasharray="1.4,1.4"/>
<line x1="1042.50" y1="588.50" x2="1042.50" y2="816.80" stroke="#000" stroke-width="1.4" stroke-dasharray="1.4,1.4"/>
<text x="978.40" y="584.80" font-size="10.5" font-weight="normal" fill="#000" textLength="7.55" lengthAdjust="spacingAndGlyphs" >C</text>
<text x="987.52" y="586.30" font-size="7" font-weight="normal" fill="#000" textLength="10.87" lengthAdjust="spacingAndGlyphs" >Min</text>
<text x="1032.20" y="584.20" font-size="10.5" font-weight="normal" fill="#000" textLength="7.55" lengthAdjust="spacingAndGlyphs" >C</text>
<text x="1041.04" y="585.10" font-size="7" font-weight="normal" fill="#000" textLength="12.05" lengthAdjust="spacingAndGlyphs" >Max</text>
<line x1="852.00" y1="741.40" x2="1208.30" y2="741.40" stroke="#000" stroke-width="1.6" stroke-dasharray="1.4,1.4"/>
<line x1="852.00" y1="564.10" x2="852.00" y2="830.10" stroke="#000" stroke-width="2.7" />
<line x1="840.50" y1="565.40" x2="852.00" y2="565.40" stroke="#000" stroke-width="2.7" />
<line x1="840.50" y1="653.20" x2="852.00" y2="653.20" stroke="#000" stroke-width="2.7" />
<line x1="840.50" y1="741.00" x2="852.00" y2="741.00" stroke="#000" stroke-width="2.7" />
<line x1="840.50" y1="828.80" x2="852.00" y2="828.80" stroke="#000" stroke-width="2.7" />
<line x1="852.00" y1="828.80" x2="875.60" y2="828.80" stroke="#000" stroke-width="2.7" />
<line x1="875.60" y1="821.80" x2="875.60" y2="836.80" stroke="#000" stroke-width="2.7" />
<line x1="885.40" y1="821.80" x2="885.40" y2="836.80" stroke="#000" stroke-width="2.7" />
<line x1="885.40" y1="828.80" x2="1194.30" y2="828.80" stroke="#000" stroke-width="2.7" />
<line x1="919.20" y1="828.80" x2="919.20" y2="843.50" stroke="#000" stroke-width="2.7" />
<line x1="987.65" y1="828.80" x2="987.65" y2="843.50" stroke="#000" stroke-width="2.7" />
<line x1="1056.10" y1="828.80" x2="1056.10" y2="843.50" stroke="#000" stroke-width="2.7" />
<line x1="1124.55" y1="828.80" x2="1124.55" y2="843.50" stroke="#000" stroke-width="2.7" />
<line x1="1193.00" y1="828.80" x2="1193.00" y2="843.50" stroke="#000" stroke-width="2.7" />
<text x="803.43" y="572.80" font-size="21.5" font-weight="bold" fill="#000" textLength="33.07" lengthAdjust="spacingAndGlyphs"  stroke="#000" stroke-width="0.4">150</text>
<text x="802.91" y="660.60" font-size="21.5" font-weight="bold" fill="#000" textLength="33.60" lengthAdjust="spacingAndGlyphs"  stroke="#000" stroke-width="0.4">100</text>
<text x="814.22" y="748.40" font-size="21.5" font-weight="bold" fill="#000" textLength="22.21" lengthAdjust="spacingAndGlyphs"  stroke="#000" stroke-width="0.4">50</text>
<text x="824.85" y="836.20" font-size="21.5" font-weight="bold" fill="#000" textLength="11.67" lengthAdjust="spacingAndGlyphs"  stroke="#000" stroke-width="0.4">0</text>
<text x="845.85" y="862.50" font-size="21.5" font-weight="bold" fill="#000" textLength="11.55" lengthAdjust="spacingAndGlyphs"  stroke="#000" stroke-width="0.4">0</text>
<text x="894.23" y="865.90" font-size="21.5" font-weight="bold" fill="#000" textLength="47.35" lengthAdjust="spacingAndGlyphs"  stroke="#000" stroke-width="0.4">0.001</text>
<text x="968.35" y="865.90" font-size="21.5" font-weight="bold" fill="#000" textLength="35.96" lengthAdjust="spacingAndGlyphs"  stroke="#000" stroke-width="0.4">0.01</text>
<text x="1041.96" y="865.90" font-size="21.5" font-weight="bold" fill="#000" textLength="25.28" lengthAdjust="spacingAndGlyphs"  stroke="#000" stroke-width="0.4">0.1</text>
<text x="1119.58" y="865.90" font-size="21.5" font-weight="bold" fill="#000" textLength="8.85" lengthAdjust="spacingAndGlyphs"  stroke="#000" stroke-width="0.4">1</text>
<text x="1181.72" y="865.90" font-size="21.5" font-weight="bold" fill="#000" textLength="22.21" lengthAdjust="spacingAndGlyphs"  stroke="#000" stroke-width="0.4">10</text>
<text x="897.29" y="898.60" font-size="24.5" font-weight="bold" fill="#000" textLength="250.14" lengthAdjust="spacingAndGlyphs"  stroke="#000" stroke-width="0.5">Drug Concentration [<tspan font-weight="normal">&#956;</tspan>M]</text>
<text transform="translate(791.90,785.57) rotate(-90)" x="0" y="0" font-size="23.5" font-weight="bold" textLength="174.82" lengthAdjust="spacingAndGlyphs" stroke="#000" stroke-width="0.4">% Luminescence</text>
<polyline points="885.40,660.30 887.28,660.40 889.49,660.52 892.05,660.64 894.94,660.79 898.18,660.96 901.76,661.15 905.68,661.38 909.95,661.64 914.55,661.95 919.50,662.30 924.94,662.69 930.97,663.11 937.47,663.57 944.35,664.06 951.50,664.58 958.82,665.14 966.22,665.75 973.58,666.39 980.81,667.07 987.80,667.80 994.64,668.60 1001.49,669.48 1008.34,670.43 1015.19,671.43 1022.04,672.46 1028.90,673.49 1035.75,674.51 1042.60,675.50 1049.45,676.43 1056.30,677.30 1063.14,678.10 1069.99,678.85 1076.83,679.57 1083.67,680.26 1090.51,680.92 1097.35,681.58 1104.19,682.24 1111.03,682.91 1117.86,683.59 1124.70,684.30 1131.84,685.06 1139.46,685.89 1147.35,686.75 1155.31,687.62 1163.12,688.49 1170.60,689.32 1177.53,690.09 1183.71,690.77 1188.94,691.35 1193.00,691.80" fill="none" stroke="#ff5a5a" stroke-width="1.7" stroke-linejoin="round" />
<polyline points="885.40,652.80 887.28,652.90 889.49,652.99 892.05,653.10 894.94,653.22 898.18,653.36 901.76,653.54 905.68,653.77 909.95,654.05 914.55,654.39 919.50,654.80 924.94,655.27 930.97,655.78 937.47,656.34 944.35,656.95 951.50,657.61 958.82,658.33 966.22,659.10 973.58,659.94 980.81,660.83 987.80,661.80 994.64,662.88 1001.49,664.08 1008.34,665.38 1015.19,666.76 1022.04,668.17 1028.90,669.60 1035.75,671.00 1042.60,672.36 1049.45,673.63 1056.30,674.80 1063.14,675.89 1069.99,676.97 1076.83,678.01 1083.67,679.02 1090.51,679.99 1097.35,680.90 1104.19,681.74 1111.03,682.51 1117.86,683.20 1124.70,683.80 1131.84,684.29 1139.46,684.68 1147.35,684.98 1155.31,685.20 1163.12,685.36 1170.60,685.48 1177.53,685.57 1183.71,685.64 1188.94,685.71 1193.00,685.80" fill="none" stroke="#f00000" stroke-width="1.9" stroke-linejoin="round" />
<polyline points="885.40,684.60 887.28,685.08 889.49,685.68 892.05,686.39 894.94,687.18 898.18,688.05 901.76,688.98 905.68,689.95 909.95,690.96 914.55,691.98 919.50,693.00 924.94,694.06 930.97,695.20 937.47,696.39 944.35,697.62 951.50,698.88 958.82,700.15 966.22,701.41 973.58,702.65 980.81,703.85 987.80,705.00 994.64,706.11 1001.49,707.21 1008.34,708.29 1015.19,709.35 1022.04,710.40 1028.90,711.43 1035.75,712.43 1042.60,713.41 1049.45,714.37 1056.30,715.30 1063.14,716.20 1069.99,717.07 1076.83,717.92 1083.67,718.75 1090.51,719.55 1097.35,720.33 1104.19,721.10 1111.03,721.85 1117.86,722.58 1124.70,723.30 1131.84,724.03 1139.46,724.77 1147.35,725.51 1155.31,726.24 1163.12,726.95 1170.60,727.62 1177.53,728.23 1183.71,728.77 1188.94,729.23 1193.00,729.60" fill="none" stroke="#6e0000" stroke-width="1.9" stroke-linejoin="round" />
<line x1="852.00" y1="653.30" x2="875.40" y2="652.30" stroke="#f00000" stroke-width="1.8" />
<line x1="852.00" y1="653.30" x2="875.40" y2="658.60" stroke="#ff5a5a" stroke-width="1.8" />
<line x1="852.00" y1="653.30" x2="875.40" y2="675.60" stroke="#6e0000" stroke-width="1.8" />
<circle cx="852.00" cy="653.20" r="5.00" fill="#ff5a5a"/>
<line x1="919.20" y1="654.96" x2="919.20" y2="673.39" stroke="#ff5a5a" stroke-width="1.8" />
<line x1="913.70" y1="654.96" x2="924.70" y2="654.96" stroke="#ff5a5a" stroke-width="1.8" />
<line x1="913.70" y1="673.39" x2="924.70" y2="673.39" stroke="#ff5a5a" stroke-width="1.8" />
<circle cx="919.20" cy="660.93" r="5.00" fill="#ff5a5a"/>
<line x1="987.65" y1="669.00" x2="987.65" y2="683.93" stroke="#ff5a5a" stroke-width="1.8" />
<line x1="982.15" y1="669.00" x2="993.15" y2="669.00" stroke="#ff5a5a" stroke-width="1.8" />
<line x1="982.15" y1="683.93" x2="993.15" y2="683.93" stroke="#ff5a5a" stroke-width="1.8" />
<circle cx="987.65" cy="674.45" r="5.00" fill="#ff5a5a"/>
<line x1="1056.10" y1="674.27" x2="1056.10" y2="690.08" stroke="#ff5a5a" stroke-width="1.8" />
<line x1="1050.60" y1="674.27" x2="1061.60" y2="674.27" stroke="#ff5a5a" stroke-width="1.8" />
<line x1="1050.60" y1="690.08" x2="1061.60" y2="690.08" stroke="#ff5a5a" stroke-width="1.8" />
<circle cx="1056.10" cy="679.19" r="5.00" fill="#ff5a5a"/>
<line x1="1124.55" y1="670.76" x2="1124.55" y2="691.83" stroke="#ff5a5a" stroke-width="1.8" />
<line x1="1119.05" y1="670.76" x2="1130.05" y2="670.76" stroke="#ff5a5a" stroke-width="1.8" />
<line x1="1119.05" y1="691.83" x2="1130.05" y2="691.83" stroke="#ff5a5a" stroke-width="1.8" />
<circle cx="1124.55" cy="681.30" r="5.00" fill="#ff5a5a"/>
<line x1="1193.00" y1="688.32" x2="1193.00" y2="702.37" stroke="#ff5a5a" stroke-width="1.8" />
<line x1="1187.50" y1="688.32" x2="1198.50" y2="688.32" stroke="#ff5a5a" stroke-width="1.8" />
<line x1="1187.50" y1="702.37" x2="1198.50" y2="702.37" stroke="#ff5a5a" stroke-width="1.8" />
<circle cx="1193.00" cy="694.64" r="5.00" fill="#ff5a5a"/>
<polygon points="846.60,647.52 857.40,647.52 852.00,657.62" fill="#f00000"/>
<polygon points="913.80,645.59 924.60,645.59 919.20,655.69" fill="#f00000"/>
<polygon points="982.25,660.52 993.05,660.52 987.65,670.62" fill="#f00000"/>
<polygon points="1050.70,669.12 1061.50,669.12 1056.10,679.22" fill="#f00000"/>
<polygon points="1119.15,678.43 1129.95,678.43 1124.55,688.53" fill="#f00000"/>
<polygon points="1187.60,680.36 1198.40,680.36 1193.00,690.46" fill="#f00000"/>
<polygon points="857.00,653.20 854.50,657.53 849.50,657.53 847.00,653.20 849.50,648.87 854.50,648.87" fill="#6e0000"/>
<polygon points="924.20,694.82 921.70,699.15 916.70,699.15 914.20,694.82 916.70,690.49 921.70,690.49" fill="#6e0000"/>
<polygon points="992.65,709.39 990.15,713.72 985.15,713.72 982.65,709.39 985.15,705.06 990.15,705.06" fill="#6e0000"/>
<polygon points="1061.10,711.15 1058.60,715.48 1053.60,715.48 1051.10,711.15 1053.60,706.82 1058.60,706.82" fill="#6e0000"/>
<line x1="1124.55" y1="706.76" x2="1124.55" y2="722.56" stroke="#6e0000" stroke-width="1.8" />
<line x1="1119.05" y1="706.76" x2="1130.05" y2="706.76" stroke="#6e0000" stroke-width="1.8" />
<line x1="1119.05" y1="722.56" x2="1130.05" y2="722.56" stroke="#6e0000" stroke-width="1.8" />
<polygon points="1129.55,714.66 1127.05,718.99 1122.05,718.99 1119.55,714.66 1122.05,710.33 1127.05,710.33" fill="#6e0000"/>
<line x1="1193.00" y1="728.71" x2="1193.00" y2="746.27" stroke="#6e0000" stroke-width="1.8" />
<line x1="1187.50" y1="728.71" x2="1198.50" y2="728.71" stroke="#6e0000" stroke-width="1.8" />
<line x1="1187.50" y1="746.27" x2="1198.50" y2="746.27" stroke="#6e0000" stroke-width="1.8" />
<polygon points="1198.00,737.49 1195.50,741.82 1190.50,741.82 1188.00,737.49 1190.50,733.16 1195.50,733.16" fill="#6e0000"/>
<line x1="479.70" y1="134.30" x2="508.80" y2="134.30" stroke="#0a0a78" stroke-width="1.9" />
<polygon points="489.12,129.74 499.38,129.74 494.25,139.36" fill="#0a0a78"/>
<g transform="translate(524.1,141.3) scale(0.972,1)"><text x="0" y="0" font-size="14.4" fill="#000"><tspan>NCI-H460&#160;&#160;(STK11</tspan><tspan font-size="10.3" dy="-5.8">MUT</tspan><tspan dy="5.8">&#160;KRAS</tspan><tspan font-size="10.3" dy="-5.8">MUT</tspan><tspan dy="5.8">&#160;)</tspan></text></g>
<line x1="479.70" y1="164.10" x2="508.80" y2="164.10" stroke="#0000f0" stroke-width="1.9" />
<polygon points="494.25,158.78 499.19,164.10 494.25,169.42 489.31,164.10" fill="#0000f0"/>
<g transform="translate(524.1,171.1) scale(0.972,1)"><text x="0" y="0" font-size="14.4" fill="#000"><tspan>A549&#160;(STK11</tspan><tspan font-size="10.3" dy="-5.8">MUT</tspan><tspan dy="5.8">&#160;KRAS</tspan><tspan font-size="10.3" dy="-5.8">MUT</tspan><tspan dy="5.8">&#160;)</tspan></text></g>
<line x1="479.70" y1="191.60" x2="508.80" y2="191.60" stroke="#5c5cf5" stroke-width="1.6" />
<polygon points="489.12,196.16 499.38,196.16 494.25,186.54" fill="#5c5cf5"/>
<g transform="translate(524.1,198.6) scale(0.972,1)"><text x="0" y="0" font-size="14.4" fill="#000"><tspan>A-427&#160;(STK11</tspan><tspan font-size="10.3" dy="-5.8">MUT</tspan><tspan dy="5.8">&#160;KRAS</tspan><tspan font-size="10.3" dy="-5.8">MUT</tspan><tspan dy="5.8">&#160;)</tspan></text></g>
<line x1="1244.00" y1="121.60" x2="1272.80" y2="121.60" stroke="#0a0a78" stroke-width="1.9" />
<polygon points="1253.27,117.04 1263.53,117.04 1258.40,126.66" fill="#0a0a78"/>
<g transform="translate(1288.0,128.6) scale(0.972,1)"><text x="0" y="0" font-size="14.4" fill="#000"><tspan>NCI-H460&#160;(STK11</tspan><tspan font-size="10.3" dy="-5.8">MUT</tspan><tspan dy="5.8">&#160;KRAS</tspan><tspan font-size="10.3" dy="-5.8">MUT</tspan><tspan dy="5.8">&#160;)</tspan></text></g>
<line x1="1244.00" y1="142.30" x2="1272.80" y2="142.30" stroke="#0000f0" stroke-width="1.9" />
<polygon points="1258.40,136.98 1263.34,142.30 1258.40,147.62 1253.46,142.30" fill="#0000f0"/>
<g transform="translate(1288.0,149.3) scale(0.972,1)"><text x="0" y="0" font-size="14.4" fill="#000"><tspan>A549&#160;&#160;(STK11</tspan><tspan font-size="10.3" dy="-5.8">MUT</tspan><tspan dy="5.8">&#160;KRAS</tspan><tspan font-size="10.3" dy="-5.8">MUT</tspan><tspan dy="5.8">&#160;)</tspan></text></g>
<line x1="1244.00" y1="165.70" x2="1272.80" y2="165.70" stroke="#5c5cf5" stroke-width="1.6" />
<polygon points="1253.27,170.26 1263.53,170.26 1258.40,160.64" fill="#5c5cf5"/>
<g transform="translate(1288.0,172.7) scale(0.972,1)"><text x="0" y="0" font-size="14.4" fill="#000"><tspan>A-427&#160;(STK11</tspan><tspan font-size="10.3" dy="-5.8">MUT</tspan><tspan dy="5.8">&#160;KRAS</tspan><tspan font-size="10.3" dy="-5.8">MUT</tspan><tspan dy="5.8">&#160;)</tspan></text></g>
<line x1="465.00" y1="669.00" x2="494.50" y2="669.00" stroke="#6e0000" stroke-width="1.9" />
<polygon points="484.50,669.00 482.12,673.11 477.38,673.11 475.00,669.00 477.38,664.89 482.12,664.89" fill="#6e0000"/>
<g transform="translate(510.0,676.0) scale(0.972,1)"><text x="0" y="0" font-size="14.4" fill="#000"><tspan>CAL-12T&#160;(STK11</tspan><tspan font-size="10.3" dy="-5.8">MUT</tspan><tspan dy="5.8">&#160;KRAS</tspan><tspan font-size="10.3" dy="-5.8">WT</tspan><tspan dy="5.8">&#160;)</tspan></text></g>
<line x1="465.00" y1="696.00" x2="494.50" y2="696.00" stroke="#f00000" stroke-width="1.9" />
<polygon points="474.62,691.44 484.88,691.44 479.75,701.06" fill="#f00000"/>
<g transform="translate(510.0,703.0) scale(0.972,1)"><text x="0" y="0" font-size="14.4" fill="#000"><tspan>ChaGo-K-1(STK11</tspan><tspan font-size="10.3" dy="-5.8">MUT</tspan><tspan dy="5.8">&#160;KRAS</tspan><tspan font-size="10.3" dy="-5.8">WT</tspan><tspan dy="5.8">&#160;)</tspan></text></g>
<line x1="465.00" y1="724.10" x2="494.50" y2="724.10" stroke="#ff5a5a" stroke-width="1.9" />
<circle cx="479.75" cy="724.10" r="4.75" fill="#ff5a5a"/>
<g transform="translate(510.0,731.1) scale(0.972,1)"><text x="0" y="0" font-size="14.4" fill="#000"><tspan>NCI-H1755&#160;(STK11</tspan><tspan font-size="10.3" dy="-5.8">MUT</tspan><tspan dy="5.8">&#160;KRAS&#160;</tspan><tspan font-size="10.3" dy="-5.8">WT</tspan><tspan dy="5.8">&#160;)</tspan></text></g>
<line x1="1247.00" y1="663.40" x2="1275.90" y2="663.40" stroke="#f00000" stroke-width="1.9" />
<polygon points="1256.32,658.84 1266.58,658.84 1261.45,668.46" fill="#f00000"/>
<g transform="translate(1291.2,670.4) scale(0.972,1)"><text x="0" y="0" font-size="14.4" fill="#000"><tspan>ChaGo-K-1&#160;(STK11</tspan><tspan font-size="10.3" dy="-5.8">MUT</tspan><tspan dy="5.8">&#160;KRAS</tspan><tspan font-size="10.3" dy="-5.8">WT</tspan><tspan dy="5.8">&#160;)</tspan></text></g>
<line x1="1247.00" y1="685.90" x2="1275.90" y2="685.90" stroke="#6e0000" stroke-width="1.9" />
<polygon points="1266.20,685.90 1263.83,690.01 1259.08,690.01 1256.70,685.90 1259.08,681.79 1263.83,681.79" fill="#6e0000"/>
<g transform="translate(1291.2,692.9) scale(0.972,1)"><text x="0" y="0" font-size="14.4" fill="#000"><tspan>CAL-12T&#160;(STK11</tspan><tspan font-size="10.3" dy="-5.8">MUT</tspan><tspan dy="5.8">&#160;KRAS</tspan><tspan font-size="10.3" dy="-5.8">WT</tspan><tspan dy="5.8">&#160;)</tspan></text></g>
<line x1="1247.00" y1="708.00" x2="1275.90" y2="708.00" stroke="#ff5a5a" stroke-width="1.9" />
<circle cx="1261.45" cy="708.00" r="4.75" fill="#ff5a5a"/>
<g transform="translate(1291.2,715.0) scale(0.972,1)"><text x="0" y="0" font-size="14.4" fill="#000"><tspan>NCI-H1755&#160;(STK11</tspan><tspan font-size="10.3" dy="-5.8">MUT</tspan><tspan dy="5.8">&#160;KRAS&#160;</tspan><tspan font-size="10.3" dy="-5.8">WT</tspan><tspan dy="5.8">&#160;)</tspan></text></g>
<text x="204.86" y="1029.90" font-size="28" font-weight="normal" fill="#000" textLength="16.90" lengthAdjust="spacingAndGlyphs" >E</text>
<line x1="305.50" y1="1021.30" x2="305.50" y2="1331.60" stroke="#000" stroke-width="4.0" />
<line x1="289.70" y1="1023.30" x2="305.50" y2="1023.30" stroke="#000" stroke-width="4.0" />
<line x1="289.70" y1="1125.40" x2="305.50" y2="1125.40" stroke="#000" stroke-width="4.0" />
<line x1="289.70" y1="1227.50" x2="305.50" y2="1227.50" stroke="#000" stroke-width="4.0" />
<line x1="289.70" y1="1329.60" x2="305.50" y2="1329.60" stroke="#000" stroke-width="4.0" />
<text x="247.62" y="1031.70" font-size="23" font-weight="bold" fill="#000" textLength="38.56" lengthAdjust="spacingAndGlyphs"  stroke="#000" stroke-width="0.4">150</text>
<text x="247.62" y="1133.20" font-size="23" font-weight="bold" fill="#000" textLength="38.56" lengthAdjust="spacingAndGlyphs"  stroke="#000" stroke-width="0.4">100</text>
<text x="260.55" y="1236.00" font-size="23" font-weight="bold" fill="#000" textLength="25.72" lengthAdjust="spacingAndGlyphs"  stroke="#000" stroke-width="0.4">50</text>
<text x="273.21" y="1337.80" font-size="23" font-weight="bold" fill="#000" textLength="13.02" lengthAdjust="spacingAndGlyphs"  stroke="#000" stroke-width="0.4">0</text>
<text transform="translate(231.30,1276.97) rotate(-90)" x="0" y="0" font-size="27" font-weight="bold" textLength="200.94" lengthAdjust="spacingAndGlyphs" stroke="#000" stroke-width="0.4">% Luminescence</text>
<line x1="289.70" y1="1329.60" x2="413.30" y2="1329.60" stroke="#000" stroke-width="4.0" />
<rect x="317.3" y="1126.0" width="23.0" height="203.6" fill="#000"/>
<rect x="354.1" y="1220.0" width="18.6" height="109.6" fill="#c0c0bf" stroke="#000" stroke-width="4"/>
<line x1="363.50" y1="1206.60" x2="363.50" y2="1218.00" stroke="#000" stroke-width="2.0" />
<line x1="357.30" y1="1206.60" x2="369.70" y2="1206.60" stroke="#000" stroke-width="2.0" />
<rect x="389.1" y="1268.5" width="18.8" height="61.1" fill="#fdfdfd" stroke="#000" stroke-width="4"/>
<line x1="398.50" y1="1261.60" x2="398.50" y2="1266.50" stroke="#000" stroke-width="2.0" />
<line x1="392.30" y1="1261.60" x2="404.70" y2="1261.60" stroke="#000" stroke-width="2.0" />
<line x1="363.10" y1="1329.60" x2="363.10" y2="1345.50" stroke="#000" stroke-width="4.0" />
<text x="337.62" y="1367.70" font-size="22" font-weight="bold" fill="#000" textLength="50.49" lengthAdjust="spacingAndGlyphs"  stroke="#000" stroke-width="0.4">A549</text>
<line x1="437.30" y1="1329.60" x2="542.20" y2="1329.60" stroke="#000" stroke-width="4.0" />
<rect x="444.9" y="1126.0" width="23.0" height="203.6" fill="#000"/>
<rect x="481.7" y="1215.3" width="18.6" height="114.3" fill="#c0c0bf" stroke="#000" stroke-width="4"/>
<line x1="491.10" y1="1208.90" x2="491.10" y2="1213.30" stroke="#000" stroke-width="2.0" />
<line x1="484.90" y1="1208.90" x2="497.30" y2="1208.90" stroke="#000" stroke-width="2.0" />
<rect x="516.7" y="1279.4" width="18.8" height="50.2" fill="#fdfdfd" stroke="#000" stroke-width="4"/>
<line x1="526.10" y1="1272.20" x2="526.10" y2="1277.40" stroke="#000" stroke-width="2.0" />
<line x1="519.90" y1="1272.20" x2="532.30" y2="1272.20" stroke="#000" stroke-width="2.0" />
<line x1="490.70" y1="1329.60" x2="490.70" y2="1345.50" stroke="#000" stroke-width="4.0" />
<text x="443.66" y="1367.70" font-size="22" font-weight="bold" fill="#000" textLength="94.13" lengthAdjust="spacingAndGlyphs"  stroke="#000" stroke-width="0.4">NCI-H460</text>
<line x1="566.10" y1="1329.60" x2="671.00" y2="1329.60" stroke="#000" stroke-width="4.0" />
<rect x="572.7" y="1126.0" width="23.0" height="203.6" fill="#000"/>
<rect x="609.5" y="1212.7" width="18.6" height="116.9" fill="#c0c0bf" stroke="#000" stroke-width="4"/>
<line x1="618.90" y1="1206.30" x2="618.90" y2="1210.70" stroke="#000" stroke-width="2.0" />
<line x1="612.70" y1="1206.30" x2="625.10" y2="1206.30" stroke="#000" stroke-width="2.0" />
<rect x="644.5" y="1220.5" width="18.8" height="109.1" fill="#fdfdfd" stroke="#000" stroke-width="4"/>
<line x1="653.90" y1="1210.70" x2="653.90" y2="1218.50" stroke="#000" stroke-width="2.0" />
<line x1="647.70" y1="1210.70" x2="660.10" y2="1210.70" stroke="#000" stroke-width="2.0" />
<line x1="618.50" y1="1329.60" x2="618.50" y2="1345.50" stroke="#000" stroke-width="4.0" />
<text x="589.42" y="1367.70" font-size="22" font-weight="bold" fill="#000" textLength="57.67" lengthAdjust="spacingAndGlyphs"  stroke="#000" stroke-width="0.4">A-427</text>
<line x1="695.30" y1="1329.60" x2="796.10" y2="1329.60" stroke="#000" stroke-width="4.0" />
<rect x="700.6" y="1126.0" width="23.0" height="203.6" fill="#000"/>
<rect x="737.4" y="1199.0" width="18.6" height="130.6" fill="#c0c0bf" stroke="#000" stroke-width="4"/>
<line x1="746.80" y1="1188.40" x2="746.80" y2="1197.00" stroke="#000" stroke-width="2.0" />
<line x1="740.60" y1="1188.40" x2="753.00" y2="1188.40" stroke="#000" stroke-width="2.0" />
<rect x="772.4" y="1234.1" width="18.8" height="95.5" fill="#fdfdfd" stroke="#000" stroke-width="4"/>
<line x1="781.80" y1="1227.90" x2="781.80" y2="1232.10" stroke="#000" stroke-width="2.0" />
<line x1="775.60" y1="1227.90" x2="788.00" y2="1227.90" stroke="#000" stroke-width="2.0" />
<line x1="746.40" y1="1329.60" x2="746.40" y2="1345.50" stroke="#000" stroke-width="4.0" />
<text x="702.56" y="1367.70" font-size="22" font-weight="bold" fill="#000" textLength="86.84" lengthAdjust="spacingAndGlyphs"  stroke="#000" stroke-width="0.4">CAL-12T</text>
<line x1="820.40" y1="1329.60" x2="925.30" y2="1329.60" stroke="#000" stroke-width="4.0" />
<rect x="828.3" y="1126.0" width="23.0" height="203.6" fill="#000"/>
<rect x="865.1" y="1164.1" width="18.6" height="165.5" fill="#c0c0bf" stroke="#000" stroke-width="4"/>
<line x1="874.50" y1="1157.20" x2="874.50" y2="1162.10" stroke="#000" stroke-width="2.0" />
<line x1="868.30" y1="1157.20" x2="880.70" y2="1157.20" stroke="#000" stroke-width="2.0" />
<rect x="900.1" y="1209.1" width="18.8" height="120.5" fill="#fdfdfd" stroke="#000" stroke-width="4"/>
<line x1="909.50" y1="1204.50" x2="909.50" y2="1207.10" stroke="#000" stroke-width="2.0" />
<line x1="903.30" y1="1204.50" x2="915.70" y2="1204.50" stroke="#000" stroke-width="2.0" />
<line x1="874.10" y1="1329.60" x2="874.10" y2="1345.50" stroke="#000" stroke-width="4.0" />
<text x="819.58" y="1367.70" font-size="22" font-weight="bold" fill="#000" textLength="107.12" lengthAdjust="spacingAndGlyphs"  stroke="#000" stroke-width="0.4">ChaGo-K-1</text>
<line x1="949.10" y1="1329.60" x2="1059.60" y2="1329.60" stroke="#000" stroke-width="4.0" />
<rect x="955.8" y="1126.0" width="23.0" height="203.6" fill="#000"/>
<rect x="992.6" y="1161.2" width="18.6" height="168.4" fill="#c0c0bf" stroke="#000" stroke-width="4"/>
<line x1="1002.00" y1="1146.60" x2="1002.00" y2="1159.20" stroke="#000" stroke-width="2.0" />
<line x1="995.80" y1="1146.60" x2="1008.20" y2="1146.60" stroke="#000" stroke-width="2.0" />
<rect x="1027.6" y="1227.3" width="18.8" height="102.3" fill="#fdfdfd" stroke="#000" stroke-width="4"/>
<line x1="1037.00" y1="1222.30" x2="1037.00" y2="1225.30" stroke="#000" stroke-width="2.0" />
<line x1="1030.80" y1="1222.30" x2="1043.20" y2="1222.30" stroke="#000" stroke-width="2.0" />
<line x1="1001.60" y1="1329.60" x2="1001.60" y2="1345.50" stroke="#000" stroke-width="4.0" />
<text x="948.56" y="1367.70" font-size="22" font-weight="bold" fill="#000" textLength="105.47" lengthAdjust="spacingAndGlyphs"  stroke="#000" stroke-width="0.4">NCI-H1755</text>
<text x="349.48" y="1206.35" font-size="21" font-weight="bold">*</text>
<text x="358.93" y="1206.35" font-size="21" font-weight="bold">*</text>
<text x="368.38" y="1206.35" font-size="21" font-weight="bold">*</text>
<text x="383.88" y="1264.55" font-size="21" font-weight="bold">*</text>
<text x="393.18" y="1264.55" font-size="21" font-weight="bold">*</text>
<text x="402.48" y="1264.55" font-size="21" font-weight="bold">*</text>
<text x="376.38" y="1183.05" font-size="21" font-weight="bold">*</text>
<text x="477.07" y="1212.25" font-size="21" font-weight="bold">*</text>
<text x="486.92" y="1212.25" font-size="21" font-weight="bold">*</text>
<text x="496.77" y="1212.25" font-size="21" font-weight="bold">*</text>
<text x="496.18" y="1190.55" font-size="21" font-weight="bold">*</text>
<text x="505.17" y="1190.55" font-size="21" font-weight="bold">*</text>
<text x="514.17" y="1190.55" font-size="21" font-weight="bold">*</text>
<text x="512.58" y="1276.05" font-size="21" font-weight="bold">*</text>
<text x="522.03" y="1276.05" font-size="21" font-weight="bold">*</text>
<text x="531.48" y="1276.05" font-size="21" font-weight="bold">*</text>
<text x="605.38" y="1208.75" font-size="21" font-weight="bold">*</text>
<text x="614.52" y="1208.75" font-size="21" font-weight="bold">*</text>
<text x="623.67" y="1208.75" font-size="21" font-weight="bold">*</text>
<text x="639.98" y="1212.25" font-size="21" font-weight="bold">*</text>
<text x="649.42" y="1212.25" font-size="21" font-weight="bold">*</text>
<text x="658.88" y="1212.25" font-size="21" font-weight="bold">*</text>
<text x="737.88" y="1189.95" font-size="21" font-weight="bold">*</text>
<text x="747.27" y="1189.95" font-size="21" font-weight="bold">*</text>
<text x="757.88" y="1169.15" font-size="21" font-weight="bold">*</text>
<text x="768.27" y="1230.65" font-size="21" font-weight="bold">*</text>
<text x="777.72" y="1230.65" font-size="21" font-weight="bold">*</text>
<text x="787.17" y="1230.65" font-size="21" font-weight="bold">*</text>
<text x="860.98" y="1162.25" font-size="21" font-weight="bold">*</text>
<text x="870.28" y="1162.25" font-size="21" font-weight="bold">*</text>
<text x="879.58" y="1162.25" font-size="21" font-weight="bold">*</text>
<text x="878.88" y="1139.65" font-size="21" font-weight="bold">*</text>
<text x="888.02" y="1139.65" font-size="21" font-weight="bold">*</text>
<text x="897.17" y="1139.65" font-size="21" font-weight="bold">*</text>
<text x="895.67" y="1208.65" font-size="21" font-weight="bold">*</text>
<text x="904.67" y="1208.65" font-size="21" font-weight="bold">*</text>
<text x="913.67" y="1208.65" font-size="21" font-weight="bold">*</text>
<text x="1010.27" y="1124.15" font-size="21" font-weight="bold">*</text>
<text x="1019.67" y="1124.15" font-size="21" font-weight="bold">*</text>
<text x="1025.28" y="1223.85" font-size="21" font-weight="bold">*</text>
<text x="1034.72" y="1223.85" font-size="21" font-weight="bold">*</text>
<text x="1044.17" y="1223.85" font-size="21" font-weight="bold">*</text>
<polyline points="363.7,1184.4 363.7,1180.0 398.1,1180.0 398.1,1243.6" fill="none" stroke="#000" stroke-width="2.0"/>
<polyline points="490.7,1192.5 490.7,1187.3 526.6,1187.3 526.6,1255.7" fill="none" stroke="#000" stroke-width="2.0"/>
<polyline points="618.5,1188.1 618.5,1180.3 655.2,1180.3 655.2,1194.2" fill="none" stroke="#000" stroke-width="2.0"/>
<polyline points="746.4,1171.0 746.4,1165.9 781.4,1165.9 781.4,1212.7" fill="none" stroke="#000" stroke-width="2.0"/>
<polyline points="874.1,1141.6 874.1,1136.4 910.5,1136.4 910.5,1188.4" fill="none" stroke="#000" stroke-width="2.0"/>
<polyline points="1003.1,1130.5 1003.1,1124.4 1039.6,1124.4 1039.6,1205.3" fill="none" stroke="#000" stroke-width="2.0"/>
<text x="627.86" y="1174.30" font-size="12.5" font-weight="normal" fill="#000" textLength="18.08" lengthAdjust="spacingAndGlyphs" >NS</text>
<text x="994.78" y="1140.90" font-size="12.5" font-weight="normal" fill="#000" textLength="17.64" lengthAdjust="spacingAndGlyphs" >NS</text>
<rect x="1120.9" y="1100.2" width="37.3" height="21.8" fill="#000"/>
<rect x="1123.2" y="1144.8" width="32.7" height="17.3" fill="#c0c0bf" stroke="#000" stroke-width="4.6"/>
<rect x="1123.2" y="1187.4" width="32.7" height="17.3" fill="#fdfdfd" stroke="#000" stroke-width="4.6"/>
<text x="1173.45" y="1119.60" font-size="25" font-weight="normal" fill="#000" textLength="80.36" lengthAdjust="spacingAndGlyphs" >Control</text>
<text x="1172.85" y="1162.10" font-size="25" font-weight="normal" fill="#000" textLength="177.80" lengthAdjust="spacingAndGlyphs" >1&#956;M Everolimus</text>
<text x="1172.85" y="1204.10" font-size="25" font-weight="normal" fill="#000" textLength="169.80" lengthAdjust="spacingAndGlyphs" >1&#956;M Vistusertib</text>
<text x="230.53" y="1520.00" font-size="26.5" font-weight="normal" fill="#000" textLength="16.56" lengthAdjust="spacingAndGlyphs" >F</text>
<rect x="297.3" y="1511" width="774.7" height="42" fill="#cccccc"/>
<rect x="444.0" y="1511" width="1.0" height="42" fill="#d3d3d3"/>
<text x="311.15" y="1585.60" font-size="20" font-weight="bold" fill="#000" textLength="52.30" lengthAdjust="spacingAndGlyphs" >A549</text>
<text x="562.45" y="1585.60" font-size="20" font-weight="normal" fill="#000" textLength="56.90" lengthAdjust="spacingAndGlyphs" >0.356</text>
<text x="875.50" y="1585.60" font-size="20" font-weight="normal" fill="#000" textLength="57.20" lengthAdjust="spacingAndGlyphs" >8.497</text>
<rect x="297.3" y="1591.7" width="774.7" height="37.3" fill="#cccccc"/>
<rect x="444.0" y="1591.7" width="1.0" height="37.3" fill="#d3d3d3"/>
<text x="310.10" y="1622.70" font-size="20" font-weight="bold" fill="#000" textLength="103.52" lengthAdjust="spacingAndGlyphs" >NCI-H460</text>
<text x="562.45" y="1622.70" font-size="20" font-weight="normal" fill="#000" textLength="56.90" lengthAdjust="spacingAndGlyphs" >0.153</text>
<text x="875.36" y="1622.70" font-size="20" font-weight="normal" fill="#000" textLength="57.05" lengthAdjust="spacingAndGlyphs" >6.360</text>
<text x="311.15" y="1660.30" font-size="20" font-weight="bold" fill="#000" textLength="59.78" lengthAdjust="spacingAndGlyphs" >A-427</text>
<text x="561.56" y="1660.30" font-size="20" font-weight="normal" fill="#000" textLength="57.95" lengthAdjust="spacingAndGlyphs" >1.912</text>
<text x="875.36" y="1660.30" font-size="20" font-weight="normal" fill="#000" textLength="57.05" lengthAdjust="spacingAndGlyphs" >2.950</text>
<rect x="297.3" y="1666.7" width="774.7" height="37.3" fill="#cccccc"/>
<rect x="444.0" y="1666.7" width="1.0" height="37.3" fill="#d3d3d3"/>
<text x="310.87" y="1697.30" font-size="20" font-weight="bold" fill="#000" textLength="115.62" lengthAdjust="spacingAndGlyphs" >ChaGo-K-1</text>
<text x="562.19" y="1697.30" font-size="20" font-weight="normal" fill="#000" textLength="55.68" lengthAdjust="spacingAndGlyphs" >2.971</text>
<text x="832.24" y="1697.30" font-size="20" font-weight="normal" fill="#000" textLength="142.86" lengthAdjust="spacingAndGlyphs" >Not Estimable</text>
<text x="310.11" y="1734.70" font-size="20" font-weight="bold" fill="#000" textLength="115.51" lengthAdjust="spacingAndGlyphs" >NCI-H1755</text>
<text x="562.45" y="1734.70" font-size="20" font-weight="normal" fill="#000" textLength="57.05" lengthAdjust="spacingAndGlyphs" >0.992</text>
<text x="832.24" y="1734.70" font-size="20" font-weight="normal" fill="#000" textLength="142.86" lengthAdjust="spacingAndGlyphs" >Not Estimable</text>
<rect x="297.3" y="1742.3" width="774.7" height="36.7" fill="#cccccc"/>
<rect x="444.0" y="1742.3" width="1.0" height="36.7" fill="#d3d3d3"/>
<text x="310.90" y="1772.50" font-size="20" font-weight="bold" fill="#000" textLength="87.64" lengthAdjust="spacingAndGlyphs" >CAL-12T</text>
<text x="562.45" y="1772.50" font-size="20" font-weight="normal" fill="#000" textLength="56.90" lengthAdjust="spacingAndGlyphs" >0.818</text>
<text x="832.24" y="1772.50" font-size="20" font-weight="normal" fill="#000" textLength="142.86" lengthAdjust="spacingAndGlyphs" >Not Estimable</text>
<line x1="297.30" y1="1509.60" x2="1072.00" y2="1509.60" stroke="#000" stroke-width="3.4" />
<line x1="297.30" y1="1553.50" x2="1072.00" y2="1553.50" stroke="#000" stroke-width="3.4" />
<line x1="297.30" y1="1780.00" x2="1072.00" y2="1780.00" stroke="#000" stroke-width="3.4" />
<text x="458.88" y="1540.00" font-size="20" font-weight="bold" fill="#000" textLength="263.70" lengthAdjust="spacingAndGlyphs" >IC50 Vistusertib (&#956;M) (35)</text>
<text x="770.49" y="1540.00" font-size="20" font-weight="bold" fill="#000" textLength="267.17" lengthAdjust="spacingAndGlyphs" >IC50 Everolimus (&#956;M) (45)</text>
</svg></body></html>
